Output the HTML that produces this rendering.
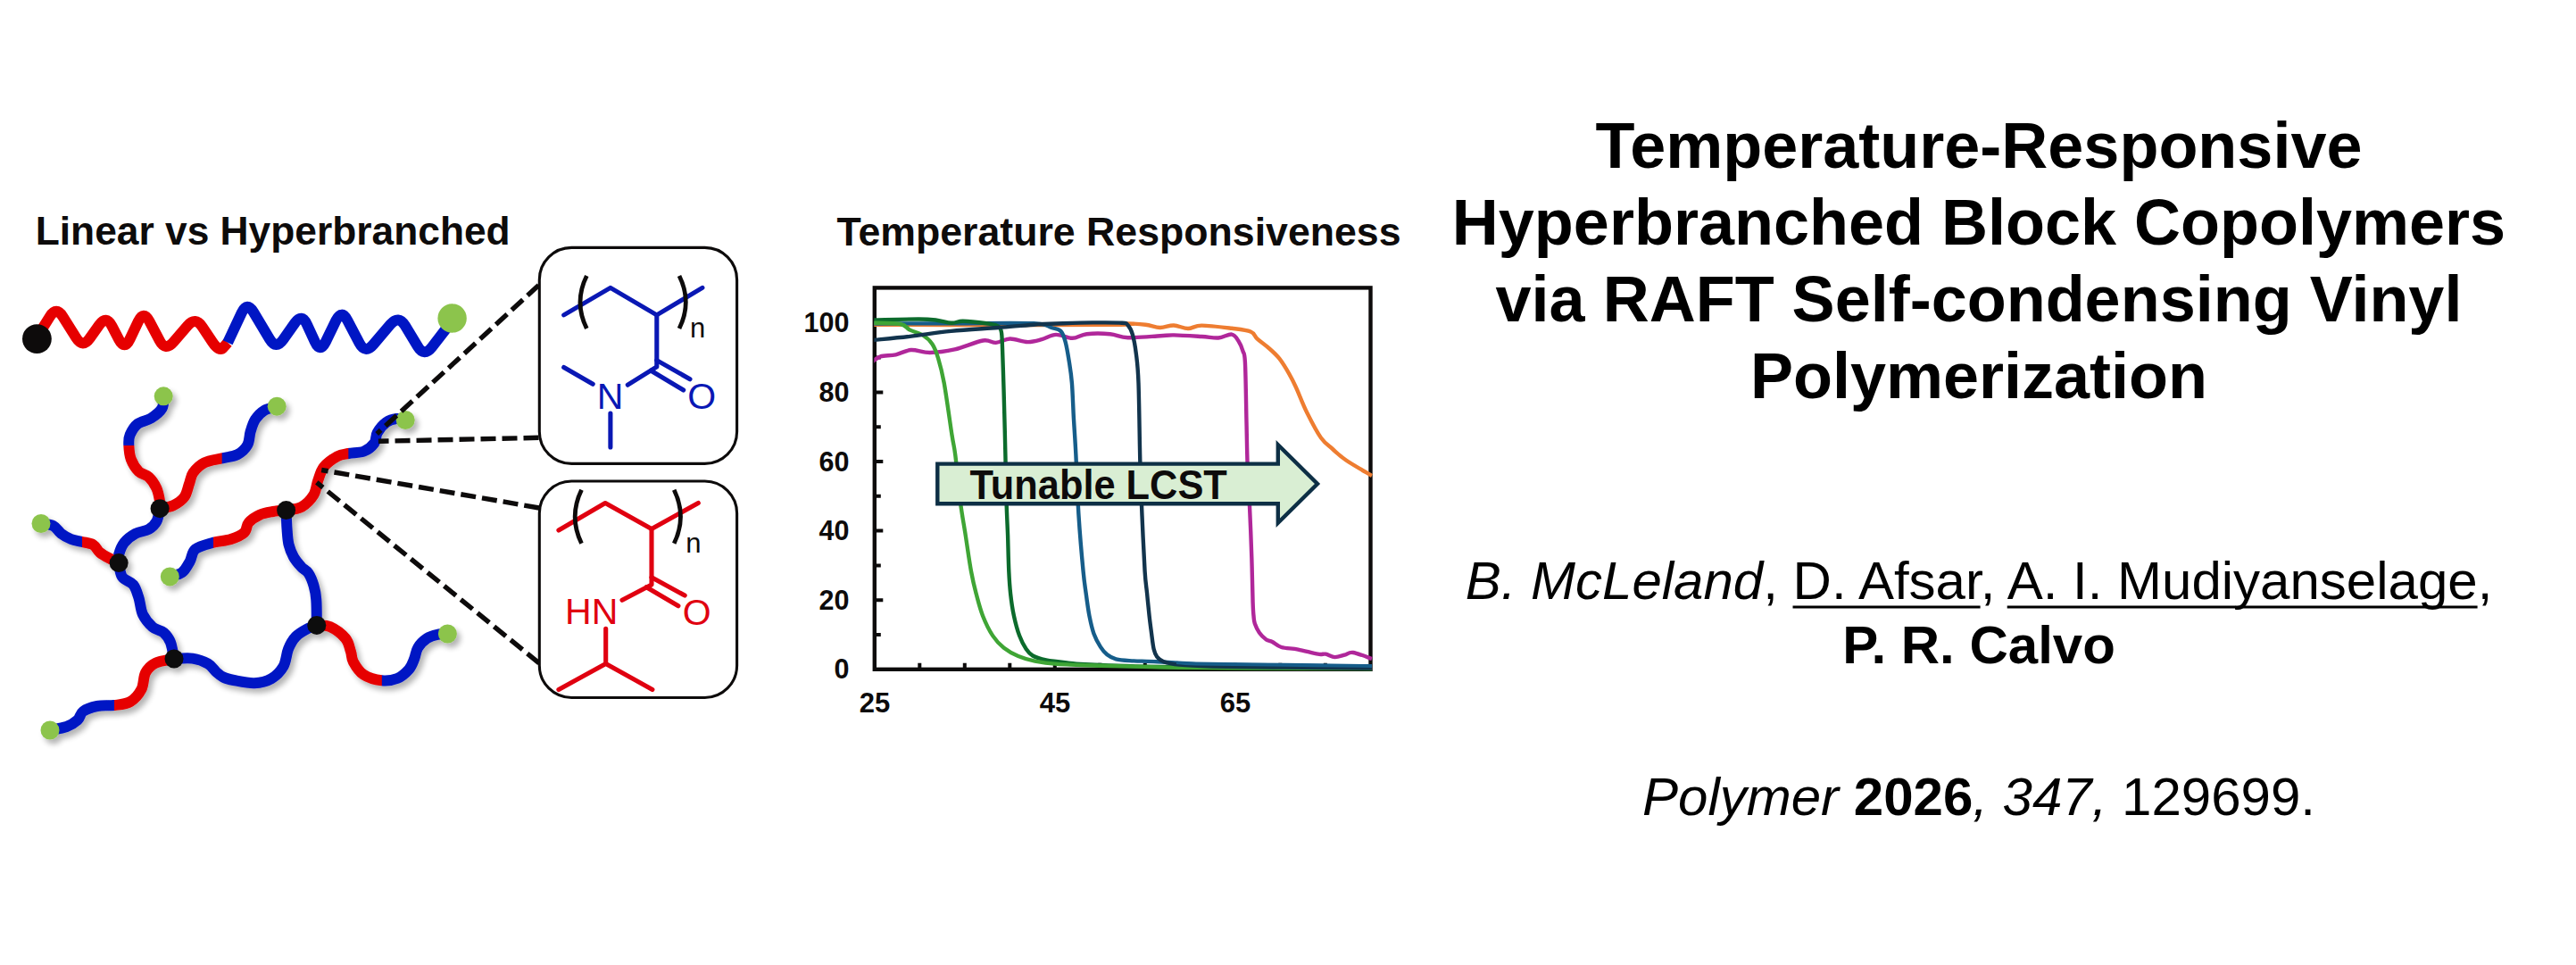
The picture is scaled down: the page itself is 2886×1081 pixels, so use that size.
<!DOCTYPE html>
<html lang="en"><head><meta charset="utf-8"><title>Temperature-Responsive Hyperbranched Block Copolymers</title>
<style>
html,body{margin:0;padding:0;background:#fff}
body{width:2886px;height:1081px;overflow:hidden}
svg{display:block}
</style></head><body>
<svg width="2886" height="1081" viewBox="0 0 2886 1081">
<defs>
<filter id="sh" x="-5%" y="-5%" width="112%" height="112%"><feGaussianBlur in="SourceAlpha" stdDeviation="3.4"/><feOffset dx="4" dy="5.2"/><feComponentTransfer><feFuncA type="linear" slope="0.3"/></feComponentTransfer><feMerge><feMergeNode/><feMergeNode in="SourceGraphic"/></feMerge></filter>
<linearGradient id="g0" gradientUnits="userSpaceOnUse" x1="0" y1="498.7" x2="0" y2="499.3"><stop offset="0" stop-color="#0016c4"/><stop offset="1" stop-color="#e60000"/></linearGradient>
<linearGradient id="g1" gradientUnits="userSpaceOnUse" x1="248.3" y1="0" x2="248.9" y2="0"><stop offset="0" stop-color="#e60000"/><stop offset="1" stop-color="#0016c4"/></linearGradient>
<linearGradient id="g2" gradientUnits="userSpaceOnUse" x1="91.6" y1="0" x2="92.2" y2="0"><stop offset="0" stop-color="#0016c4"/><stop offset="1" stop-color="#e60000"/></linearGradient>
<linearGradient id="g3" gradientUnits="userSpaceOnUse" x1="127.7" y1="0" x2="128.3" y2="0"><stop offset="0" stop-color="#0016c4"/><stop offset="1" stop-color="#e60000"/></linearGradient>
<linearGradient id="g4" gradientUnits="userSpaceOnUse" x1="238.5" y1="0" x2="239.1" y2="0"><stop offset="0" stop-color="#0016c4"/><stop offset="1" stop-color="#e60000"/></linearGradient>
<linearGradient id="g5" gradientUnits="userSpaceOnUse" x1="390.1" y1="0" x2="390.7" y2="0"><stop offset="0" stop-color="#e60000"/><stop offset="1" stop-color="#0016c4"/></linearGradient>
<linearGradient id="g6" gradientUnits="userSpaceOnUse" x1="427.4" y1="0" x2="428" y2="0"><stop offset="0" stop-color="#e60000"/><stop offset="1" stop-color="#0016c4"/></linearGradient>
<clipPath id="cc"><rect x="979.3" y="322.4" width="558.5" height="429.7"/></clipPath>
</defs>
<rect width="2886" height="1081" fill="#fff"/>
<g fill="none" stroke-width="12" stroke-linejoin="round">
<path d="M45 372L55.7 354.8Q63.1 342.9 70.5 354.8L85.3 378.4Q92.7 390.2 100.7 378.8L111 364.3Q119 352.8 125.4 365.2L133.2 380.2Q139.6 392.6 145.5 379.9L154.9 360.1Q160.8 347.4 167.3 359.8L178.8 381.5Q185.3 393.8 194.4 383.2L209.9 365.1Q219 354.5 226.7 366.2L237.8 382.9Q245.5 394.6 250.3 389.2L255.1 383.7" stroke="#e60000" stroke-linecap="butt"/>
<path d="M255.1 383.7L270.8 350.2Q276.8 337.6 284 349.6L302.1 379.9Q309.3 391.9 317.3 380.4L330.1 362.2Q338.1 350.7 343.9 363.4L352.8 382.8Q358.6 395.6 364.8 383L376.5 358.9Q382.7 346.4 389.2 358.8L402.6 384.3Q409.1 396.6 418.2 386L437.4 363.4Q446.5 352.8 453.8 364.7L468 388.1Q475.3 400 483.9 388.9L500 368" stroke="#0016c4" stroke-linecap="butt"/>
</g>
<circle cx="41.4" cy="379.6" r="16.4" fill="#0d0b0b"/>
<circle cx="506.6" cy="356.5" r="16.2" fill="#8cc44c"/>
<g filter="url(#sh)">
<path d="M183.2 443.8C182.9 446.1 183.9 453.2 181.6 457.3C179.3 461.4 173.8 465.6 169.2 468.5C164.6 471.4 158.2 471.7 154.3 474.8C150.4 477.9 147.3 483.3 145.6 487.2C143.9 491.1 144.1 493.8 144.3 498.4C144.5 502.9 144.9 509.5 146.8 514.5C148.7 519.5 152.2 524.9 155.5 528.2C158.8 531.5 163.4 531.3 166.7 534.4C170 537.5 173.3 542.3 175.4 546.9C177.5 551.5 178.5 558 179.1 561.8C179.7 565.6 179.1 568.4 179.1 569.7" stroke="url(#g0)" stroke-width="12" fill="none" stroke-linecap="butt" stroke-linejoin="round"/>
<path d="M179.1 569.7C181.6 569.1 189.4 568.4 194 566.3C198.6 564.1 203.5 560.9 206.5 556.8C209.5 552.7 210.3 546.4 212 541.9C213.7 537.4 213.6 533.4 216.4 529.5C219.2 525.6 223.5 521 228.9 518.3C234.3 515.6 242.5 514.8 248.7 513.3C254.9 511.8 261.3 511.6 266.1 509.1C270.9 506.6 274.9 502.7 277.3 498.4C279.7 494.1 279.2 488.3 280.6 483.5C282.1 478.7 283.4 473.8 286 469.8C288.6 465.9 292 462.2 296 459.8C300 457.4 307.8 456 310.2 455.2" stroke="url(#g1)" stroke-width="12" fill="none" stroke-linecap="butt" stroke-linejoin="round"/>
<path d="M179.1 569.7C178.5 572.1 177.5 580.3 175.4 584.2C173.3 588.1 170.6 590.6 166.7 592.9C162.8 595.2 156.4 595.3 151.8 597.8C147.2 600.3 142.4 603.9 139.3 607.8C136.2 611.7 134.1 617.6 133.1 621.4C132.1 625.2 133.1 629.1 133.1 630.6" stroke="#0016c4" stroke-width="12" fill="none" stroke-linecap="butt" stroke-linejoin="round"/>
<path d="M46 586.5C48.3 586.9 56 587.2 59.8 589.1C63.5 591 65.2 595.3 68.5 597.8C71.8 600.3 75.8 602.5 79.7 604C83.6 605.5 88 606 92.1 607C96.2 608 101.2 608.3 104.5 610.3C107.8 612.3 108.7 616.3 112 619C115.3 621.7 120.9 624.5 124.4 626.4C127.9 628.3 131.7 629.9 133.1 630.6" stroke="url(#g2)" stroke-width="12" fill="none" stroke-linecap="butt" stroke-linejoin="round"/>
<path d="M133.1 630.6C133.7 633.2 134.2 642.2 136.9 646.3C139.6 650.4 146.2 651.1 149.3 655C152.4 658.9 153.7 664.3 155.5 669.9C157.3 675.5 157.4 683 160 688.4C162.6 693.8 167.1 699 171 702.4C174.9 705.8 180.1 705.8 183.4 708.6C186.7 711.5 189.1 714.6 191 719.5C192.9 724.4 194.3 734.9 195 738" stroke="#0016c4" stroke-width="12" fill="none" stroke-linecap="butt" stroke-linejoin="round"/>
<path d="M56 818C59.1 817.3 69.4 815.9 74.6 814C79.8 812.1 83.9 809.3 87 806.5C90.1 803.7 89.4 799.6 93 797C96.6 794.4 103 792.2 108.8 791C114.6 789.8 121.8 790.8 128 790C134.2 789.2 140.9 789 146 786C151.1 783 155.7 777.4 158.5 772C161.3 766.6 160.4 758.5 163 753.6C165.6 748.7 168.7 745.4 174 742.8C179.3 740.2 191.5 738.8 195 738" stroke="url(#g3)" stroke-width="12" fill="none" stroke-linecap="butt" stroke-linejoin="round"/>
<path d="M195 738C198.5 737.9 209.5 736.7 215.8 737.6C222.1 738.5 228.6 741 233 743.5C237.4 746 239.2 750 242 752.5C244.8 755 246.7 756.9 250 758.5C253.3 760.1 256.2 760.9 262 762C267.8 763.1 278 765.5 285 765.2C292 764.9 298.6 763.3 304 760.2C309.4 757.1 314.3 752 317.5 746.5C320.7 741 320.7 732.6 323 727C325.3 721.4 327.8 716.8 331.5 713C335.2 709.2 341.1 706.1 345 704C348.9 701.9 353.2 701 354.8 700.4" stroke="#0016c4" stroke-width="12" fill="none" stroke-linecap="butt" stroke-linejoin="round"/>
<path d="M190.3 645.9C192.6 645.1 200.3 644.1 204 641.3C207.7 638.5 210.2 633.2 212.7 628.9C215.2 624.5 214.6 618.7 218.9 615.2C223.2 611.7 232.2 609.7 238.8 607.8C245.4 605.9 252.9 605.9 258.7 604C264.5 602.1 270.3 599.7 273.6 596.6C276.9 593.5 275.7 588.7 278.6 585.4C281.5 582.1 286.4 578.8 291 576.7C295.6 574.6 301 573.9 305.9 573C310.8 572.1 318.2 571.8 320.6 571.6" stroke="url(#g4)" stroke-width="12" fill="none" stroke-linecap="butt" stroke-linejoin="round"/>
<path d="M320.6 571.6C320.8 575 321 585.6 321.5 592C322 598.4 322.2 604.7 323.5 610C324.8 615.3 326.7 619.8 329 624C331.3 628.2 334.8 632 337.5 635C340.2 638 343.2 638.5 345.5 642C347.8 645.5 350 651 351.5 656C353 661 353.8 664.6 354.3 672C354.9 679.4 354.7 695.7 354.8 700.4" stroke="#0016c4" stroke-width="12" fill="none" stroke-linecap="butt" stroke-linejoin="round"/>
<path d="M320.6 571.6C323.5 571 333 570.6 338.1 567.7C343.2 564.8 348.3 559.4 351.4 554.4C354.4 549.4 354.5 543 356.4 537.8C358.3 532.5 359.4 527.3 363 522.9C366.6 518.5 373.3 513.8 377.9 511.3C382.5 508.8 385.4 509 390.4 508C395.4 507 403 507.4 407.8 505.5C412.6 503.6 416.9 499.8 419.4 496.4C421.9 492.9 420.5 488.7 422.7 484.8C424.9 480.9 429.1 475.8 432.7 473.2C436.3 470.6 440.7 469.4 444.3 469C447.9 468.6 452.6 470.2 454.2 470.5" stroke="url(#g5)" stroke-width="12" fill="none" stroke-linecap="butt" stroke-linejoin="round"/>
<path d="M354.8 700.4C357.3 700.7 364.2 699.6 369.6 702C375 704.4 383.1 710.4 387 715C390.9 719.6 391.4 725.2 392.9 729.6C394.4 734 393.4 736.9 395.8 741.3C398.2 745.7 402.1 752.3 407.4 755.8C412.7 759.3 421.4 761.6 427.7 762.3C434 763 439.9 762 445 760C450.1 758 454.8 753.6 458 750C461.2 746.4 462.3 742.5 464 738.4C465.7 734.3 465.9 729.2 468.3 725.3C470.7 721.4 474.9 717.4 478.5 715C482.1 712.6 486.2 711.6 490 710.8C493.8 710 499.5 710.1 501.4 710" stroke="url(#g6)" stroke-width="12" fill="none" stroke-linecap="butt" stroke-linejoin="round"/>
<circle cx="179.1" cy="569.7" r="10.5" fill="#0d0b0b"/>
<circle cx="133.1" cy="630.6" r="10.5" fill="#0d0b0b"/>
<circle cx="195" cy="738" r="10.5" fill="#0d0b0b"/>
<circle cx="320.6" cy="571.6" r="10.5" fill="#0d0b0b"/>
<circle cx="354.8" cy="700.4" r="10.5" fill="#0d0b0b"/>
<circle cx="183.2" cy="443.8" r="10.5" fill="#8cc44c"/>
<circle cx="310.2" cy="455.2" r="10.5" fill="#8cc44c"/>
<circle cx="454.2" cy="470.5" r="10.5" fill="#8cc44c"/>
<circle cx="46" cy="586.5" r="10.5" fill="#8cc44c"/>
<circle cx="190.3" cy="645.9" r="10.5" fill="#8cc44c"/>
<circle cx="501.4" cy="710" r="10.5" fill="#8cc44c"/>
<circle cx="56" cy="818" r="10.5" fill="#8cc44c"/>
</g>
<g stroke="#0d0b0b" stroke-width="5.4" stroke-dasharray="17 7" fill="none">
<path d="M603.5 319.5L422.2 485.9"/>
<path d="M603.5 490.3L423.9 494.3"/>
<path d="M604 569L360.2 526.5"/>
<path d="M604 742.8L354.8 540.4"/>
</g>
<rect x="604.3" y="277.4" width="221.3" height="242" rx="36" fill="#fff" stroke="#0d0b0b" stroke-width="3.1"/>
<rect x="604.3" y="539" width="221.3" height="242.5" rx="36" fill="#fff" stroke="#0d0b0b" stroke-width="3.1"/>
<g stroke="#0a18b4" stroke-width="5.1" fill="none" stroke-linecap="round" stroke-linejoin="round">
<path d="M631.7 352.9L683.9 322.4L735.8 352.9L786.9 322.4"/>
<path d="M735.8 352.9V410.9L703.3 431.2"/>
<path d="M735.8 403.6L773 424.8M729.4 415.2L765.7 437"/>
<path d="M631.7 411.5L664.2 430.3M683.9 463.1V500.9"/>
</g>
<g font-family="'Liberation Sans',sans-serif" font-size="41" fill="#0a18b4" text-anchor="middle">
<text x="683.5" y="458.2">N</text><text x="786.3" y="458.4">O</text></g>
<g stroke="#0d0b0b" stroke-width="4.8" fill="none">
<path d="M657.3 309Q642.7 338.5 657.3 368"/>
<path d="M761 309Q775.6 338.5 761 368"/>
</g>
<text x="781.7" y="377.5" font-family="'Liberation Sans',sans-serif" font-size="31" fill="#0d0b0b" text-anchor="middle">n</text>
<g stroke="#e00010" stroke-width="5.1" fill="none" stroke-linecap="round" stroke-linejoin="round">
<path d="M625.9 594L678.1 563.5L730 592.5L782.3 563.5"/>
<path d="M730 592.5V654.9L697 672.3"/>
<path d="M730 646.8L767.2 667.1M724.2 657.8L759.9 678.7"/>
<path d="M678.7 704.3V743.4M625.9 772.5L678.7 743.4L730.9 772.5"/>
</g>
<g font-family="'Liberation Sans',sans-serif" font-size="41" fill="#e00010" text-anchor="middle">
<text x="662.7" y="699.3">HN</text><text x="780.6" y="699.6">O</text></g>
<g stroke="#0d0b0b" stroke-width="4.8" fill="none">
<path d="M651.5 548.7Q636.9 578.7 651.5 608.8"/>
<path d="M755.2 548.7Q769.8 578.7 755.2 608.8"/>
</g>
<text x="776.8" y="618.5" font-family="'Liberation Sans',sans-serif" font-size="31" fill="#0d0b0b" text-anchor="middle">n</text>
<text x="39.7" y="274.2" textLength="532" lengthAdjust="spacingAndGlyphs" font-family="'Liberation Sans',sans-serif" font-weight="bold" font-size="45" fill="#0d0b0b">Linear vs Hyperbranched</text>
<text x="937.5" y="274.5" textLength="632" lengthAdjust="spacingAndGlyphs" font-family="'Liberation Sans',sans-serif" font-weight="bold" font-size="45" fill="#0d0b0b">Temperature Responsiveness</text>
<g stroke="#0d0b0b" stroke-width="4.4" fill="none">
<rect x="979.8" y="322.4" width="555.7" height="427.4"/>
<path d="M979.8 711h7M979.8 672.2h9.5M979.8 633.4h7M979.8 594.6h9.5M979.8 555.8h7M979.8 517h9.5M979.8 478.2h7M979.8 439.4h9.5M979.8 400.6h7M979.8 361.8h9.5M1030.3 749.8v-7M1080.8 749.8v-7M1131.3 749.8v-7M1181.8 749.8v-7M1232.3 749.8v-7M1282.8 749.8v-7M1333.3 749.8v-7M1383.8 749.8v-7M1434.3 749.8v-7M1484.8 749.8v-7" stroke-width="4"/>
</g>
<g font-family="'Liberation Sans',sans-serif" font-weight="bold" font-size="30.5" fill="#0d0b0b" text-anchor="end">
<text x="951.5" y="760.4">0</text>
<text x="951.5" y="682.8">20</text>
<text x="951.5" y="605.2">40</text>
<text x="951.5" y="527.6">60</text>
<text x="951.5" y="450">80</text>
<text x="951.5" y="372.4">100</text>
</g>
<g font-family="'Liberation Sans',sans-serif" font-weight="bold" font-size="31" fill="#0d0b0b" text-anchor="middle">
<text x="980.1" y="797.8">25</text>
<text x="1182.1" y="797.8">45</text>
<text x="1384.1" y="797.8">65</text>
</g>
<g clip-path="url(#cc)">
<path d="M978 363.8C998.3 363.8 1054.7 364 1100 364C1145.3 364 1222.7 364.1 1250 363.8C1277.3 363.6 1258 362.5 1263.6 362.5C1269.2 362.5 1277.4 362.9 1283.4 363.7C1289.4 364.4 1294.4 366.9 1299.7 367C1305 367.1 1309.8 364.3 1315 364.5C1320.2 364.7 1325.8 368 1331 368C1336.2 368 1338.1 364.6 1346.3 364.6C1354.5 364.6 1370.9 366.7 1380 367.8C1389.1 368.9 1396.3 369.5 1401.1 371.5C1405.9 373.5 1405.3 376.6 1408.6 379.6C1411.9 382.6 1416.8 385.8 1421 389.5C1425.2 393.2 1429.6 396.9 1433.5 401.9C1437.4 406.9 1441.5 413.9 1444.6 419.3C1447.7 424.7 1448.7 426.8 1452 434C1455.3 441.2 1459.7 453.1 1464.4 462.5C1469.1 471.9 1475.2 483.8 1480 490.5C1484.8 497.2 1488.3 498.8 1493 503C1497.7 507.2 1500.7 510.5 1508 515.5C1515.3 520.5 1532.2 530.1 1537 533" stroke="#ee7d31" stroke-width="4.4" fill="none" stroke-linejoin="round" stroke-linecap="butt"/>
<path d="M978 404.8C979.4 403.9 982.1 400.6 986.4 399.3C990.7 398.1 997.9 398.5 1003.6 397.3C1009.3 396.1 1014.3 392.4 1020.7 392C1027.1 391.6 1033.7 395.1 1041.8 395C1049.9 394.9 1059.7 393.6 1069.6 391.4C1079.5 389.1 1093.5 382.8 1101.2 381.5C1108.9 380.2 1110.7 384.2 1115.8 383.9C1120.9 383.6 1125.7 379.6 1131.6 379.5C1137.5 379.4 1145.5 383 1151.4 383.1C1157.3 383.2 1161.9 381.6 1167.2 380.2C1172.5 378.8 1177.4 375.1 1183.1 374.9C1188.8 374.7 1195.8 378.9 1201.5 378.8C1207.2 378.7 1210.4 375 1217.4 374.2C1224.5 373.4 1236.1 373.5 1243.8 374.2C1251.5 374.9 1254.2 377.9 1263.6 378.2C1273 378.5 1291.4 376.7 1300 376.2C1308.6 375.7 1307.5 375.3 1315.2 375.4C1322.9 375.5 1338 376.5 1346.3 377C1354.6 377.5 1359.4 378.9 1365 378.5C1370.6 378.1 1376.2 374 1380 374.6C1383.8 375.2 1385.4 378.9 1387.5 382C1389.6 385.1 1391.2 389.2 1392.4 393.2C1393.6 397.1 1394.2 393.1 1394.9 405.7C1395.6 418.3 1396 449.6 1396.4 468.7C1396.9 487.8 1397 504.4 1397.6 520C1398.2 535.6 1399 544.8 1399.8 562.2C1400.6 579.6 1401.7 605.6 1402.3 624.4C1402.9 643.2 1403.2 664.1 1403.6 675C1404 685.9 1404.1 686.1 1404.5 690C1404.9 693.9 1404.7 695.4 1405.8 698.5C1406.9 701.6 1408.8 705.8 1410.9 708.8C1413 711.8 1416.2 714.8 1418.6 716.5C1421 718.2 1422.6 717.6 1425.4 719C1428.2 720.4 1430.8 723.6 1435.6 725C1440.4 726.4 1447.6 726.3 1454.4 727.6C1461.2 728.9 1471.5 731.9 1476.6 732.7C1481.7 733.6 1482.1 732.1 1485.2 732.7C1488.3 733.3 1491.9 736 1495.4 736.1C1499 736.2 1503.1 734.5 1506.5 733.6C1509.9 732.8 1510.8 730.3 1515.9 731C1521 731.7 1533.5 736.8 1537 738" stroke="#b0279a" stroke-width="4.4" fill="none" stroke-linejoin="round" stroke-linecap="butt"/>
<path d="M978 362.5C993.3 362.5 1040 362.3 1070 362.3C1100 362.3 1140 361.5 1158 362.3C1176 363.1 1172.7 365.6 1177.8 367C1182.9 368.4 1185.8 368.3 1188.4 370.9C1191 373.5 1192.1 377.3 1193.6 382.8C1195.1 388.3 1196.4 396.2 1197.6 403.9C1198.8 411.6 1200 418 1200.9 429C1201.8 440 1202.2 456.5 1203 470C1203.8 483.5 1204.5 492.1 1205.4 510C1206.3 528 1207.1 556 1208.5 577.7C1209.9 599.4 1212.2 625.5 1213.6 640C1215 654.5 1215.6 656.6 1216.7 664.9C1217.8 673.2 1219 682.2 1220.4 689.7C1221.9 697.2 1223.3 703.9 1225.4 709.7C1227.5 715.5 1230.4 720.7 1232.9 724.6C1235.4 728.5 1237.4 731 1240.3 733.3C1243.2 735.6 1246.1 737.2 1250.3 738.3C1254.5 739.4 1257.5 739.6 1265.2 740.1C1272.9 740.6 1283.8 740.6 1296.3 741.2C1308.8 741.8 1316 743.1 1340 743.7C1364 744.3 1407.2 744.6 1440 745C1472.8 745.4 1520.8 746.1 1537 746.3" stroke="#165d8a" stroke-width="4.4" fill="none" stroke-linejoin="round" stroke-linecap="butt"/>
<path d="M978 358.4C988.2 358.3 1024.6 357.1 1039.2 357.7C1053.8 358.2 1059 361.4 1065.6 361.7C1072.2 362 1072.2 359.6 1078.8 359.7C1085.4 359.8 1098.8 361.4 1105.2 362.3C1111.6 363.2 1114.2 363.6 1117 365C1119.8 366.4 1120.7 366.8 1121.7 370.9C1122.7 375 1122.6 379.7 1123 389.4C1123.4 399.1 1123.9 415.8 1124.3 429C1124.7 442.2 1125.1 455.2 1125.4 468.7C1125.8 482.2 1126 494.4 1126.4 510C1126.8 525.6 1127.1 547.2 1127.6 562.2C1128 577.2 1128.6 587 1129.1 600C1129.5 613 1129.8 629.2 1130.3 640C1130.8 650.8 1131.2 656.6 1132.1 664.9C1133 673.2 1134.2 681.8 1135.9 689.7C1137.6 697.6 1139.8 705.9 1142.1 712.1C1144.4 718.3 1147.1 723.3 1149.6 727C1152.1 730.7 1153.3 732.4 1157 734.5C1160.7 736.6 1165.4 738.1 1172 739.5C1178.6 740.9 1188.5 741.8 1196.8 742.6C1205.1 743.4 1204.5 743.8 1221.7 744.5C1238.9 745.2 1247.5 746.2 1300 747C1352.5 747.8 1497.5 748.7 1537 749" stroke="#0c6b2c" stroke-width="4.4" fill="none" stroke-linejoin="round" stroke-linecap="butt"/>
<path d="M978 361.7C983.1 361.9 1001.9 361.7 1008.8 363C1015.7 364.3 1015.2 367.5 1019.4 369.6C1023.6 371.7 1029.7 372.9 1033.9 375.5C1038.1 378.1 1041.6 381.1 1044.5 385.4C1047.4 389.7 1048.9 394 1051.1 401.3C1053.3 408.6 1055.1 414.6 1057.7 429C1060.3 443.4 1064.4 473.9 1066.5 487.4C1068.6 500.9 1068.7 497.5 1070.3 510C1071.9 522.5 1074 547.2 1075.9 562.2C1077.8 577.2 1079.8 587 1081.8 600C1083.8 613 1086 629.2 1088 640C1090 650.8 1091.4 656.6 1093.6 664.9C1095.8 673.2 1097.9 681.8 1101 689.7C1104.1 697.6 1108.2 706.1 1112.2 712.1C1116.2 718.1 1119.9 722 1124.7 725.8C1129.5 729.6 1135 732.6 1140.8 735.1C1146.6 737.6 1152.2 739.2 1159.5 740.7C1166.8 742.2 1172 743.1 1184.4 743.9C1196.8 744.7 1213.3 745.1 1234 745.7C1254.7 746.3 1281.1 747.1 1308.8 747.6C1336.5 748.1 1362 748.3 1400 748.5C1438 748.7 1514.2 748.9 1537 749" stroke="#3fa535" stroke-width="4.4" fill="none" stroke-linejoin="round" stroke-linecap="butt"/>
<path d="M978 381C984.9 380.3 1004.8 378.6 1019.4 376.9C1034 375.2 1049.1 372.5 1065.6 370.9C1082.1 369.2 1103 368.2 1118.4 367C1133.8 365.8 1145.9 364.5 1158 363.7C1170.1 362.9 1180 362.7 1191 362.3C1202 361.9 1213 361.5 1224 361.4C1235 361.3 1250.4 361.2 1257 361.7C1263.6 362.2 1261.6 362.1 1263.6 364.3C1265.6 366.5 1267.4 369.6 1268.9 374.9C1270.4 380.2 1271.7 387 1272.8 396C1273.9 405 1274.7 408.3 1275.5 429C1276.3 449.7 1276.7 495.2 1277.4 520C1278.1 544.8 1278.6 557.7 1279.5 577.7C1280.4 597.7 1281.7 625.5 1282.6 640C1283.5 654.5 1284.3 656.6 1285.1 664.9C1285.9 673.2 1286.8 682.2 1287.6 689.7C1288.4 697.2 1289.3 703.5 1290.1 709.7C1290.9 715.9 1291.6 722.8 1292.6 727.1C1293.6 731.5 1294.4 733.4 1296.3 735.8C1298.2 738.1 1299.6 739.7 1303.8 741.2C1308 742.7 1312.1 743.7 1321.2 744.6C1330.3 745.5 1338.7 746 1358.5 746.5C1378.3 747 1410.2 747.2 1440 747.6C1469.8 748 1520.8 748.4 1537 748.6" stroke="#12344d" stroke-width="4.4" fill="none" stroke-linejoin="round" stroke-linecap="butt"/>
<path d="M1318 742.4C1321.7 742.6 1319.7 743.3 1340 743.7C1360.3 744.1 1407.2 744.6 1440 745C1472.8 745.4 1520.8 746.1 1537 746.3" stroke="#165d8a" stroke-width="3.4" fill="none" stroke-linejoin="round" stroke-linecap="butt"/>
</g>
<path d="M1050.3 519.6H1431.8V498.2L1476 542L1431.8 585.8V564.3H1050.3Z" fill="#d9eed3" stroke="#0d2f45" stroke-width="4.4" stroke-linejoin="miter"/>
<text x="1086.6" y="559.4" textLength="288.2" lengthAdjust="spacingAndGlyphs" font-family="'Liberation Sans',sans-serif" font-weight="bold" font-size="45.5" fill="#0d0b0b">Tunable LCST</text>
<g font-family="'Liberation Sans',sans-serif" font-weight="bold" font-size="72" fill="#000" text-anchor="middle">
<text x="2217" y="188">Temperature-Responsive</text>
<text x="2217" y="273.9">Hyperbranched Block Copolymers</text>
<text x="2217" y="359.8">via RAFT Self-condensing Vinyl</text>
<text x="2217" y="445.7">Polymerization</text>
</g>
<g font-family="'Liberation Sans',sans-serif" font-size="60" fill="#000" text-anchor="middle">
<text x="2217" y="671.4"><tspan font-style="italic">B. McLeland</tspan>, <tspan class="u">D. Afsar</tspan>, <tspan class="u">A. I. Mudiyanselage</tspan>,</text>
<path d="M2008.5 680H2218.6M2248.7 680H2775.6" stroke="#000" stroke-width="3" fill="none"/>
<text x="2217" y="743.3" font-weight="bold">P. R. Calvo</text>
<text x="2217" y="913"><tspan font-style="italic">Polymer</tspan> <tspan font-weight="bold">2026</tspan><tspan font-style="italic">, 347,</tspan> 129699.</text>
</g>
</svg>
</body></html>
